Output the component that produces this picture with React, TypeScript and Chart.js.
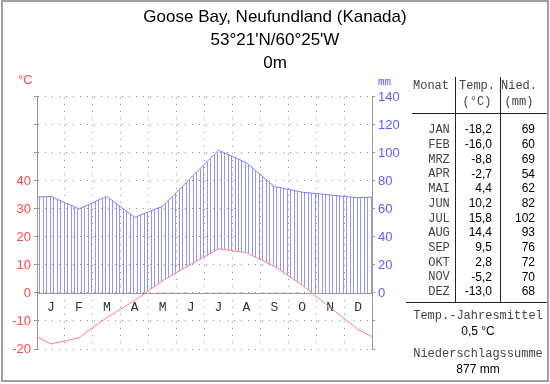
import React, { useEffect, useRef } from 'react';
import { Chart, registerables } from 'chart.js';

Chart.register(...registerables);

const TITLE_LINES = ['Goose Bay, Neufundland (Kanada)', "53°21'N/60°25'W", '0m'];
const MONTH_LETTERS = ['J', 'F', 'M', 'A', 'M', 'J', 'J', 'A', 'S', 'O', 'N', 'D'];
const MONTH_ABBR = ['JAN', 'FEB', 'MRZ', 'APR', 'MAI', 'JUN', 'JUL', 'AUG', 'SEP', 'OKT', 'NOV', 'DEZ'];
const TEMP = [-18.2, -16.0, -8.8, -2.7, 4.4, 10.2, 15.8, 14.4, 9.5, 2.8, -5.2, -13.0];
const PRECIP = [69, 60, 69, 54, 62, 82, 102, 93, 76, 72, 70, 68];
const TEMP_LABELS = [-20, -10, 0, 10, 20, 30, 40];
const PRECIP_LABELS = [0, 20, 40, 60, 80, 100, 120, 140];
const TABLE_HEAD_1 = ['Monat', 'Temp.', 'Nied.'];
const TABLE_HEAD_2 = ['', '(°C)', '(mm)'];
const MEAN_LABEL = 'Temp.-Jahresmittel';
const MEAN_VALUE = '0,5 °C';
const SUM_LABEL = 'Niederschlagssumme';
const SUM_VALUE = '877 mm';

const RED = '#ff4a4a';
const BLUE = '#5c5cff';
const GRID = '#8c8c8c';
const AXIS = '#999999';
const MONO = '"Liberation Mono", monospace';
const SANS = '"Liberation Sans", Arial, sans-serif';
const HATCH_PER_MONTH = 8;

// wrap series around the year so the line runs edge to edge
const wrapped = (arr: number[]) => [
  { x: -0.5, y: arr[11] },
  ...arr.map((v, i) => ({ x: i + 0.5, y: v })),
  { x: 12.5, y: arr[0] },
];

const interp = (arr: number[], xv: number) => {
  const i = Math.floor(xv - 0.5);
  const a = arr[(i + 12) % 12];
  const b = arr[(i + 13) % 12];
  const t = xv - 0.5 - i;
  return a + (b - a) * t;
};

const fmt = (v: number) => v.toFixed(1).replace('.', ',');

const climatePlugin = {
  id: 'climate',
  beforeDatasetsDraw(chart: any) {
    const { ctx, chartArea, scales } = chart;
    const x = scales.x, y = scales.y, y2 = scales.y2;
    ctx.save();
    // hatching between precipitation and max(temp, 0)
    ctx.strokeStyle = '#9494ff';
    ctx.lineWidth = 1;
    ctx.beginPath();
    for (let k = 0; k < HATCH_PER_MONTH * 12; k++) {
      const xv = (k + 0.6) / HATCH_PER_MONTH;
      const p = interp(PRECIP, xv);
      const t = interp(TEMP, xv);
      const px = Math.round(x.getPixelForValue(xv)) + 0.5;
      const top = y2.getPixelForValue(p);
      const bottom = y.getPixelForValue(Math.max(0, t));
      if (top < bottom) {
        ctx.moveTo(px, top);
        ctx.lineTo(px, bottom);
      }
    }
    ctx.stroke();
    // zero line
    const y0 = Math.round(y.getPixelForValue(0)) + 0.5;
    ctx.strokeStyle = AXIS;
    ctx.beginPath();
    ctx.moveTo(chartArea.left, y0);
    ctx.lineTo(chartArea.right, y0);
    ctx.stroke();
    // month letters
    ctx.fillStyle = '#333';
    ctx.font = `13px ${MONO}`;
    ctx.textAlign = 'center';
    ctx.textBaseline = 'middle';
    MONTH_LETTERS.forEach((m, i) => {
      ctx.fillText(m, x.getPixelForValue(i + 0.5), y.getPixelForValue(-5) + 1);
    });
    ctx.restore();
  },
  afterDraw(chart: any) {
    const { ctx, chartArea } = chart;
    ctx.save();
    // units
    ctx.textBaseline = 'middle';
    ctx.textAlign = 'left';
    ctx.fillStyle = RED;
    ctx.font = `13px ${SANS}`;
    ctx.fillText('°C', 18, 80);
    ctx.fillStyle = BLUE;
    ctx.font = `11px ${MONO}`;
    ctx.fillText('mm', chartArea.right + 6, 82);

    // table lines
    ctx.strokeStyle = '#222';
    ctx.lineWidth = 1;
    ctx.beginPath();
    ctx.moveTo(455.5, 77);
    ctx.lineTo(455.5, 302);
    ctx.moveTo(500.5, 77);
    ctx.lineTo(500.5, 302);
    ctx.moveTo(412, 113.5);
    ctx.lineTo(547, 113.5);
    ctx.moveTo(406, 302.5);
    ctx.lineTo(547, 302.5);
    ctx.stroke();

    // header
    ctx.fillStyle = '#444';
    ctx.font = `12px ${MONO}`;
    ctx.textAlign = 'center';
    const colC = [431, 477, 519];
    TABLE_HEAD_1.forEach((h, i) => ctx.fillText(h, colC[i], 86));
    TABLE_HEAD_2.forEach((h, i) => h && ctx.fillText(h, colC[i], 102));

    // rows
    MONTH_ABBR.forEach((m, i) => {
      const ry = 130 + i * 14.73;
      ctx.fillStyle = '#444';
      ctx.font = `12px ${MONO}`;
      ctx.textAlign = 'center';
      ctx.fillText(m, 439, ry);
      ctx.fillStyle = '#000';
      ctx.font = `12px ${SANS}`;
      ctx.textAlign = 'right';
      ctx.fillText(fmt(TEMP[i]), 492, ry);
      ctx.fillText(String(PRECIP[i]), 535, ry);
    });

    // summary
    ctx.textAlign = 'center';
    ctx.fillStyle = '#444';
    ctx.font = `12px ${MONO}`;
    ctx.fillText(MEAN_LABEL, 478, 316);
    ctx.fillText(SUM_LABEL, 478, 354);
    ctx.fillStyle = '#000';
    ctx.font = `12px ${SANS}`;
    ctx.fillText(MEAN_VALUE, 478, 332);
    ctx.fillText(SUM_VALUE, 478, 370);

    // frame
    ctx.strokeStyle = '#a0a0a0';
    ctx.lineWidth = 2;
    ctx.strokeRect(2, 1, 546, 380);
    ctx.restore();
  },
};

export default function App() {
  const ref = useRef<HTMLCanvasElement | null>(null);

  useEffect(() => {
    if (!ref.current) return;
    const chart = new Chart(ref.current, {
      type: 'line',
      data: {
        datasets: [
          {
            label: 'Temp',
            data: wrapped(TEMP),
            yAxisID: 'y',
            borderColor: '#ff8080',
            borderWidth: 1,
            pointRadius: 0,
            tension: 0,
            fill: false,
          },
          {
            label: 'Nied',
            data: wrapped(PRECIP),
            yAxisID: 'y2',
            borderColor: '#8080ff',
            borderWidth: 1,
            pointRadius: 0,
            tension: 0,
            fill: false,
          },
        ],
      },
      options: {
        responsive: false,
        animation: false,
        devicePixelRatio: 1,
        events: [],
        layout: { padding: { left: 0, right: 0, top: 0, bottom: 35 } },
        plugins: {
          legend: { display: false },
          tooltip: { enabled: false },
          title: {
            display: true,
            text: TITLE_LINES,
            color: '#000',
            font: { family: SANS, size: 17, weight: 'normal', lineHeight: 1.35 },
            padding: { top: 5.5, bottom: 22.6 },
          },
        },
        scales: {
          x: {
            type: 'linear',
            min: 0,
            max: 12,
            ticks: { stepSize: 1, display: false },
            grid: { color: GRID, drawTicks: false, lineWidth: 1 },
            border: { display: false, dash: [1, 6] },
            afterFit: (s: any) => { s.height = 0; },
          },
          y: {
            type: 'linear',
            position: 'left',
            min: -20,
            max: 70,
            ticks: {
              stepSize: 10,
              color: RED,
              padding: 3,
              font: { family: SANS, size: 13 },
              callback: (v: any) => (TEMP_LABELS.includes(Number(v)) ? String(v) : ''),
            },
            grid: { color: GRID, tickLength: 3, tickColor: AXIS },
            border: { display: true, color: AXIS, width: 1, dash: [1, 6] },
            afterFit: (s: any) => { s.width = 37; },
          },
          y2: {
            type: 'linear',
            position: 'right',
            min: -40,
            max: 140,
            ticks: {
              stepSize: 20,
              color: BLUE,
              padding: 3,
              font: { family: SANS, size: 13 },
              callback: (v: any) => (PRECIP_LABELS.includes(Number(v)) ? String(v) : ''),
            },
            grid: { drawOnChartArea: false, tickLength: 3, tickColor: AXIS },
            border: { display: true, color: AXIS, width: 1 },
            afterFit: (s: any) => { s.width = 178; },
          },
        },
      },
      plugins: [climatePlugin],
    } as any);
    return () => chart.destroy();
  }, []);

  return (
    <div style={{ position: 'absolute', left: 0, top: 0, width: 550, height: 384, background: '#fff' }}>
      <canvas ref={ref} width={550} height={384} style={{ display: 'block' }} />
    </div>
  );
}
